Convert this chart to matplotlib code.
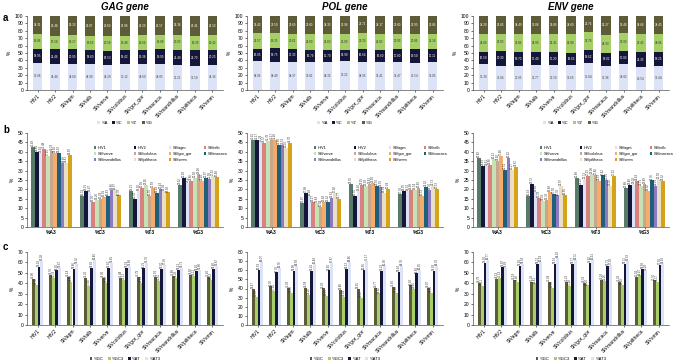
import numpy as np
import matplotlib.pyplot as plt

plt.rcParams['font.family'] = ['Liberation Sans', 'DejaVu Sans']

strains = ['HIV1', 'HIV2', 'SIVagm', 'SIVtalb', 'SIVverve', 'SIVcolobus', 'SIVgor_gor',
           'SIVmacaca', 'SIVmandrillus', 'SIVpiltheca', 'SIVsmm']
genes = ['GAG', 'POL', 'ENV']

# panel a: base composition (%A, %C, %T, %G)
gag_A = [36.88, 34.48, 34.60, 34.90, 34.29, 35.12, 34.69, 34.85, 33.21, 32.50, 34.16]
gag_C = [18.95, 21.46, 20.90, 18.60, 18.53, 18.42, 19.38, 19.90, 21.40, 21.70, 20.23]
gag_T = [19.86, 17.58, 19.17, 19.63, 20.58, 19.48, 19.64, 19.08, 20.03, 19.39, 19.42]
gag_G = [24.31, 26.48, 25.33, 26.87, 26.60, 26.98, 26.29, 26.17, 25.36, 26.41, 26.19]

pol_A = [38.96, 38.40, 38.37, 37.81, 38.35, 39.22, 38.35, 37.41, 37.47, 36.54, 37.85]
pol_C = [16.05, 18.75, 17.33, 16.79, 15.70, 14.90, 16.64, 16.60, 17.80, 19.50, 17.11]
pol_T = [21.57, 19.35, 20.61, 21.60, 21.60, 21.90, 22.30, 21.82, 20.93, 20.06, 21.18]
pol_G = [23.42, 23.50, 23.69, 23.80, 24.35, 23.98, 22.71, 24.17, 23.80, 23.90, 23.86]

env_A = [35.30, 32.84, 32.95, 33.77, 33.50, 33.69, 35.84, 32.38, 34.82, 30.54, 32.44]
env_C = [16.50, 20.30, 18.70, 17.40, 17.20, 16.63, 18.62, 18.02, 17.80, 21.35, 18.25]
env_T = [24.00, 23.03, 23.86, 24.95, 25.41, 25.08, 23.78, 24.33, 23.90, 23.45, 24.86]
env_G = [24.20, 23.83, 24.49, 23.88, 23.89, 24.60, 21.76, 25.27, 23.48, 24.66, 24.45]

# panel b: third codon position composition (rows = strains: %A3, %C3, %T3, %G3)
gag_pos3 = [[42.49, 16.31, 19.21, 22.32], [39.84, 19.15, 15.02, 25.99], [39.34, 18.47, 18.92, 23.27],
            [41.48, 13.30, 20.56, 24.66], [37.55, 14.26, 22.26, 25.93], [40.38, 15.03, 16.50, 28.28],
            [39.50, 15.81, 20.58, 24.40], [39.33, 16.63, 18.18, 25.97], [34.20, 19.86, 20.43, 25.58],
            [33.83, 19.97, 19.04, 27.33], [38.50, 16.78, 18.38, 26.48]]
pol_pos3 = [[46.45, 12.97, 22.70, 17.78], [46.17, 17.98, 16.50, 19.35], [45.24, 16.40, 19.40, 19.33],
            [44.57, 13.27, 22.29, 19.88], [45.78, 12.64, 22.03, 19.54], [46.17, 10.44, 22.91, 20.60],
            [46.46, 13.49, 23.50, 16.52], [43.80, 13.32, 21.70, 21.32], [43.51, 15.62, 21.30, 19.70],
            [42.00, 17.92, 18.04, 21.73], [44.70, 14.77, 20.04, 20.33]]
env_pos3 = [[36.89, 16.43, 25.88, 20.68], [32.59, 22.73, 22.29, 22.40], [32.61, 18.64, 25.73, 23.02],
            [32.96, 15.38, 27.23, 24.43], [36.12, 14.05, 28.08, 21.75], [34.92, 14.39, 27.80, 22.89],
            [37.98, 18.68, 24.33, 19.32], [30.51, 17.50, 27.42, 24.76], [36.52, 16.78, 25.00, 21.91],
            [30.27, 21.97, 22.02, 25.50], [31.87, 16.85, 27.23, 24.32]]

# panel c: %GC, %GC3, %AT, %AT3
gag_GC = [43.98, 47.70, 46.14, 45.20, 44.90, 45.48, 45.79, 46.00, 46.88, 47.90, 46.40]
gag_GC3 = [38.72, 45.33, 41.68, 37.60, 40.19, 43.12, 40.21, 42.61, 45.29, 47.12, 43.13]
gag_AT = [56.02, 52.30, 53.86, 54.80, 55.10, 54.52, 54.21, 54.00, 53.12, 52.10, 53.60]
gag_AT3 = [61.28, 54.67, 58.32, 62.40, 59.81, 56.88, 59.79, 57.39, 54.71, 52.88, 56.87]

pol_GC = [39.47, 42.30, 41.02, 40.59, 40.05, 38.88, 39.35, 40.77, 41.60, 43.40, 40.97]
pol_GC3 = [30.93, 37.24, 35.42, 33.16, 32.13, 31.04, 29.83, 34.62, 35.22, 39.65, 35.30]
pol_AT = [60.53, 57.70, 58.98, 59.41, 59.95, 61.12, 60.65, 59.23, 58.40, 56.60, 59.03]
pol_AT3 = [69.07, 62.76, 64.58, 66.84, 67.87, 68.96, 70.17, 65.38, 64.78, 60.35, 64.70]

env_GC = [40.70, 44.13, 43.19, 41.28, 41.09, 41.23, 40.38, 43.29, 41.28, 46.01, 42.70]
env_GC3 = [37.11, 45.13, 41.66, 39.81, 35.80, 37.28, 38.00, 42.26, 38.69, 47.47, 41.17]
env_AT = [59.30, 55.87, 56.81, 58.72, 58.91, 58.77, 59.62, 56.71, 58.72, 53.99, 57.30]
env_AT3 = [62.77, 54.88, 58.34, 60.19, 64.20, 62.72, 62.31, 57.93, 61.52, 52.29, 59.10]

comp_data = {'GAG': [gag_A, gag_C, gag_T, gag_G],
             'POL': [pol_A, pol_C, pol_T, pol_G],
             'ENV': [env_A, env_C, env_T, env_G]}
pos3_data = {'GAG': gag_pos3, 'POL': pol_pos3, 'ENV': env_pos3}
gc_data = {'GAG': [gag_GC, gag_GC3, gag_AT, gag_AT3],
           'POL': [pol_GC, pol_GC3, pol_AT, pol_AT3],
           'ENV': [env_GC, env_GC3, env_AT, env_AT3]}
gc_ylim = {'GAG': 70, 'POL': 80, 'ENV': 70}

comp_labels = ['%A', '%C', '%T', '%G']
pos3_labels = ['%A3', '%C3', '%T3', '%G3']
gc_labels = ['%GC', '%GC3', '%AT', '%AT3']

comp_colors = ['#dce3f7', '#15173a', '#a6cf68', '#5e5b38']
comp_text = ['#444444', 'white', '#333333', 'white']
gc_colors = ['#5e5b38', '#a6cf68', '#15173a', '#dce3f7']
strain_colors = ['#587a68', '#15173a', '#dce3f7', '#d9817c', '#c6e2b5', '#c8a68e',
                 '#f5ab6a', '#1f5f7a', '#8d7bbf', '#e8dfc4', '#d6a21a']

W, H = 676, 362
fig = plt.figure(figsize=(W / 100, H / 100), dpi=100)

col_left = [27, 247, 473]
col_width = 196


def box(left, top, bottom, width=col_width):
    return [left / W, 1 - bottom / H, width / W, (bottom - top) / H]


def style(ax):
    for s in ['top', 'right']:
        ax.spines[s].set_visible(False)
    for s in ['left', 'bottom']:
        ax.spines[s].set_linewidth(0.5)
        ax.spines[s].set_color('#555555')
    ax.tick_params(width=0.4, length=1.5, labelsize=3.6, pad=1)
    ax.set_ylabel('%', fontsize=3.5, labelpad=2)


def bottom_legend(ax, ypos):
    ax.legend(loc='center', bbox_to_anchor=(0.5, ypos), ncol=4, frameon=False,
              fontsize=3.0, handlelength=0.7, handleheight=0.7, columnspacing=1.0,
              handletextpad=0.3, borderpad=0)


# row-major order for the 4-column strain legend
leg_order = [0, 4, 8, 1, 5, 9, 2, 6, 10, 3, 7]

x = np.arange(len(strains))
for gi, gene in enumerate(genes):
    left = col_left[gi]

    # ---- panel a: stacked composition
    ax = fig.add_axes(box(left, 16, 90))
    bottom = np.zeros(len(strains))
    for k in range(4):
        vals = np.array(comp_data[gene][k])
        ax.bar(x, vals, 0.55, bottom=bottom, color=comp_colors[k], label=comp_labels[k])
        for xi, b, v in zip(x, bottom, vals):
            ax.text(xi, b + v / 2, f'{v:.2f}', ha='center', va='center',
                    fontsize=2.2, color=comp_text[k])
        bottom += vals
    ax.set_ylim(0, 100)
    ax.set_yticks(range(0, 101, 10))
    ax.set_xlim(-0.6, len(strains) - 0.4)
    ax.set_xticks(x)
    ax.set_xticklabels(strains, rotation=45, ha='right', rotation_mode='anchor')
    style(ax)
    bottom_legend(ax, -0.45)
    ax.set_title(f'{gene} gene', fontsize=7, fontweight='bold', style='italic', pad=4)

    # ---- panel b: third-position composition
    ax = fig.add_axes(box(left, 133, 227))
    pos3 = np.array(pos3_data[gene])
    cat = np.arange(4)
    n = len(strains)
    bw = 0.82 / n
    handles = []
    for si in range(n):
        xs = cat - 0.41 + bw * (si + 0.5)
        bars = ax.bar(xs, pos3[si], bw, color=strain_colors[si], label=strains[si])
        handles.append(bars)
        for xx, v in zip(xs, pos3[si]):
            ax.text(xx, v + 0.5, f'{v:.2f}', rotation=90, ha='center', va='bottom',
                    fontsize=2.0, color='#333333')
    ax.set_ylim(0, 50)
    ax.set_yticks(range(0, 51, 5))
    ax.set_xlim(-0.5, 3.5)
    ax.set_xticks(cat)
    ax.set_xticklabels(pos3_labels, fontweight='bold')
    style(ax)
    ax.legend([handles[i] for i in leg_order], [strains[i] for i in leg_order],
              loc='upper right', bbox_to_anchor=(1.04, 0.9), ncol=4, frameon=False,
              fontsize=2.8, handlelength=0.6, handleheight=0.6, columnspacing=3.0,
              handletextpad=0.4, labelspacing=0.5)

    # ---- panel c: GC / AT content
    ax = fig.add_axes(box(left, 252, 325))
    gw = 0.17
    for k in range(4):
        vals = gc_data[gene][k]
        xs = x + (k - 1.5) * gw
        ax.bar(xs, vals, gw, color=gc_colors[k], label=gc_labels[k])
        for xx, v in zip(xs, vals):
            ax.text(xx, v + 0.8, f'{v:.2f}', rotation=90, ha='center', va='bottom',
                    fontsize=2.0, color='#333333')
    top = gc_ylim[gene]
    ax.set_ylim(0, top)
    ax.set_yticks(range(0, top + 1, 10))
    ax.set_xlim(-0.6, len(strains) - 0.4)
    ax.set_xticks(x)
    ax.set_xticklabels(strains, rotation=45, ha='right', rotation_mode='anchor')
    style(ax)
    bottom_legend(ax, -0.46)

for letter, ypx in [('a', 18), ('b', 130), ('c', 247)]:
    fig.text(3 / W, 1 - ypx / H, letter, fontsize=7, fontweight='bold', va='center')

fig.savefig('out.png', dpi=100)
